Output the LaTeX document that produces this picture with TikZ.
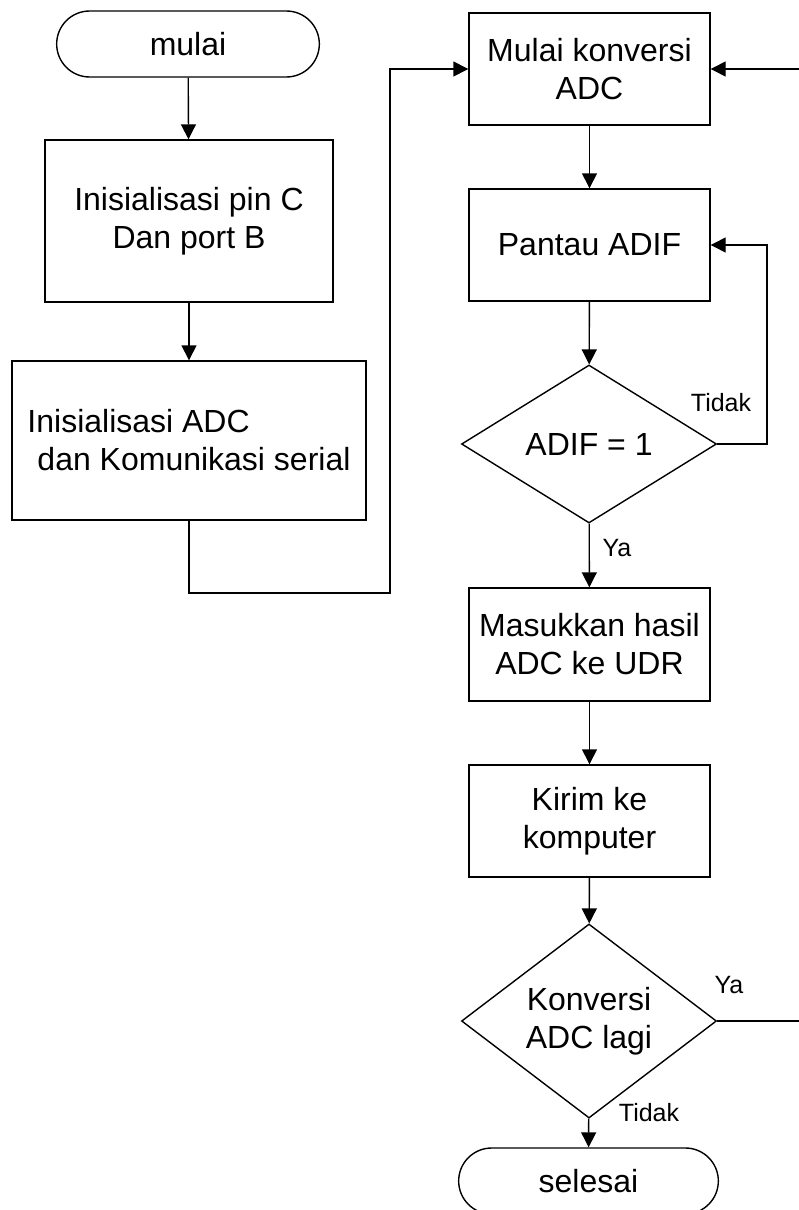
\documentclass[tikz,border=0pt]{standalone}
\usepackage{fontspec}
\setmainfont{Liberation Sans}
\usetikzlibrary{arrows.meta,shapes.geometric,shapes.misc}

\begin{document}
\begin{tikzpicture}[
            x = 0.5pt, y = -0.5pt, % one unit = one pixel of the sketch
            > = {Triangle[length=7.5pt,width=7.5pt]}, % arrow head style
            line width = 0.7pt, % line style
            font = \fontsize{16}{19}\selectfont,
            proses/.style = {shape=rectangle, draw=black, align=center},
            terminal/.style = {shape=rounded rectangle, draw=black, minimum height=33pt},
            keputusan/.style = {shape=diamond, draw=black, align=center, inner sep=0pt,
                                minimum width=127.5pt, minimum height=79pt},
            ket/.style = {font=\fontsize{12.5}{15}\selectfont}
        ]
\useasboundingbox (0,0) rectangle (798,1210);

\node[terminal, minimum width=138pt] (mulai) at (188,44) {mulai};
\node[proses, minimum width=144pt, minimum height=81pt] (initpin) at (189,221) {Inisialisasi pin C\\Dan port B};
\node[proses, align=left, minimum width=177pt, minimum height=79.5pt] (initadc) at (189,440.5) {Inisialisasi ADC\\\hspace*{5pt}dan Komunikasi serial};

\node[proses, minimum width=120.5pt, minimum height=56pt] (konversi) at (589.5,69) {Mulai konversi\\ADC};
\node[proses, minimum width=120.5pt, minimum height=56pt] (pantau) at (589.5,245) {Pantau ADIF};
\node[keputusan] (adif) at (589,444) {ADIF = 1};
\node[proses, minimum width=120.5pt, minimum height=56.5pt] (udr) at (589.5,644.5) {Masukkan hasil\\ADC ke UDR};
\node[proses, minimum width=120.5pt, minimum height=56pt] (kirim) at (589.5,821) {Kirim ke\\komputer};
\node[keputusan] (lagi) at (589,1021) {Konversi\\ADC lagi};
\node[terminal, minimum width=136.5pt] (selesai) at (588.5,1181) {selesai};

 \path [->] (mulai) edge (initpin);
 \path [->] (initpin) edge (initadc);
 \path [->] (konversi) edge (pantau);
 \path [->] (pantau) edge (adif);
 \path [->] (adif) edge (udr);
 \path [->] (udr) edge (kirim);
 \path [->] (kirim) edge (lagi);
 \path [->] (lagi) edge (selesai);

% jalur balik
\coordinate (belok) at (390,593);
\draw [->] (initadc.south) |- (belok) |- (konversi.west);
\draw [->] (adif.east) -- (767,444) |- (pantau.east);
\draw [->] (lagi.east) -- (800,1021) |- (konversi.east);

\node[ket] (tidak1) at (721,403) {Tidak};
\node[ket] (ya1) at (617,548) {Ya};
\node[ket] (ya2) at (729,985) {Ya};
\node[ket] (tidak2) at (649,1113) {Tidak};

\end{tikzpicture}
\end{document}
